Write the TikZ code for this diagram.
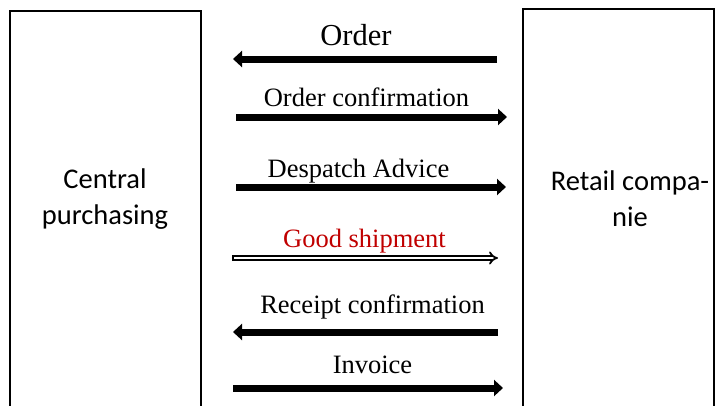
\documentclass[tikz,border=0pt]{standalone}
\usepackage{fontspec}
\setmainfont{Liberation Serif}
\newfontfamily\boxfont{Carlito}
\usetikzlibrary{arrows.meta}

\begin{document}
\begin{tikzpicture}[x=1pt,y=-1pt]
    \tikzset{
    party/.style={draw,line width=2pt,minimum width=191pt,minimum height=440pt,inner sep=0pt},
    ptext/.style={align=center,font=\boxfont\fontsize{28.5}{36}\selectfont},
    lbl/.style={anchor=base,inner sep=0pt,font=\fontsize{26.5}{30}\selectfont},
    msg/.style={line width=7pt,-{Triangle[length=9pt,width=16pt]}},
    goods/.style={double,line width=1.8pt,double distance=2.4pt,{Bar[width=6pt,line width=1.6pt]}-{Implies}},
    }
    \useasboundingbox (0,0) rectangle (726,405);

    \node[party] (cp) at (105,231) {};
    \node[party] (rc) at (618,229) {};
    \node[ptext] (cpt) at (105,199) {Central\\purchasing};
    \node[ptext] (rct) at (630,199) {Retail compa-\\nie};

    % message ends
    \coordinate (m1a) at (497,59);   \coordinate (m1b) at (233,59);
    \coordinate (m2a) at (236,117);  \coordinate (m2b) at (507,117);
    \coordinate (m3a) at (236,187);  \coordinate (m3b) at (506,187);
    \coordinate (m4a) at (232,258);  \coordinate (m4b) at (498,258);
    \coordinate (m5a) at (498,332);  \coordinate (m5b) at (233,332);
    \coordinate (m6a) at (233,388);  \coordinate (m6b) at (503,388);

    \node[lbl,font=\fontsize{30.5}{34}\selectfont] (l1) at (356,45) {Order};
    \node[lbl] (l2) at (366.5,106) {Order confirmation};
    \node[lbl] (l3) at (358.5,177) {Despatch Advice};
    \node[lbl,text={rgb,255:red,192;green,0;blue,0}] (l4) at (364.5,247) {Good shipment};
    \node[lbl] (l5) at (372.5,313) {Receipt confirmation};
    \node[lbl] (l6) at (372.5,373) {Invoice};

    \draw[msg] (m1a) -- (m1b);
    \draw[msg] (m2a) -- (m2b);
    \draw[msg] (m3a) -- (m3b);
    \draw[goods] (m4a) -- (m4b);
    \draw[msg] (m5a) -- (m5b);
    \draw[msg] (m6a) -- (m6b);

\end{tikzpicture}
\end{document}
